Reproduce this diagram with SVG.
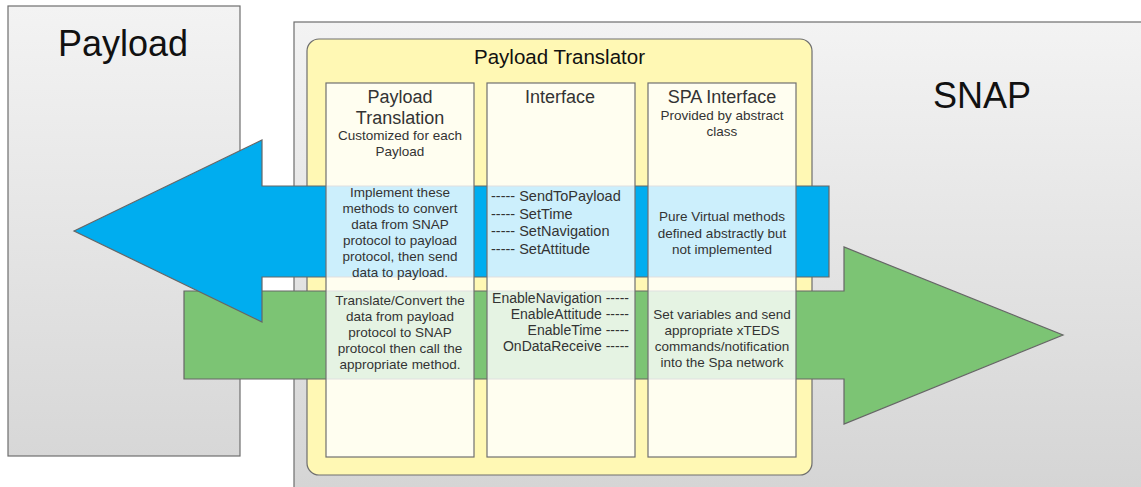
<svg xmlns="http://www.w3.org/2000/svg" width="1141" height="487" viewBox="0 0 1141 487">
<defs>
<linearGradient id="gPay" x1="0" y1="0" x2="0" y2="1">
<stop offset="0" stop-color="#f3f3f3"/><stop offset="1" stop-color="#d7d7d7"/>
</linearGradient>
<linearGradient id="gSnap" gradientUnits="userSpaceOnUse" x1="0" y1="22" x2="0" y2="487">
<stop offset="0" stop-color="#f3f3f3"/><stop offset="1" stop-color="#d5d5d5"/>
</linearGradient>
</defs>
<style>
.box{stroke:#6e6e6e;stroke-width:1.2}
.col{fill:#ffffff;fill-opacity:0.8;stroke:#707070;stroke-width:1.2}
.arrow{stroke:#666666;stroke-width:1.2;stroke-linejoin:miter}
text{font-family:"Liberation Sans",Arial,sans-serif}
.big{font-size:36px;fill:#111;text-anchor:middle}
.title{font-size:20.5px;fill:#111;text-anchor:middle}
.hdr{font-size:18px;fill:#333;text-anchor:middle}
.sub{font-size:13.5px;fill:#333;text-anchor:middle}
.body{font-size:13.5px;fill:#333;text-anchor:middle}
.ifl{font-size:14.5px;fill:#333;text-anchor:start}
.ifr{font-size:14px;fill:#333;text-anchor:end}
</style>
<rect width="1141" height="487" fill="#ffffff"/>
<g id="payload">
<rect class="box" x="8" y="6" width="232" height="450" fill="url(#gPay)"/>
<text class="big" x="123" y="56">Payload</text>
</g>
<g id="snap">
<rect class="box" x="294" y="22" width="860" height="480" fill="url(#gSnap)"/>
<text class="big" x="982" y="108">SNAP</text>
</g>
<g id="translator">
<rect class="box" x="307" y="39" width="505" height="436" rx="12" ry="12" fill="#fff8b4"/>
<text class="title" x="559.5" y="63.5">Payload Translator</text>
</g>
<g id="connectors">
<polygon class="arrow" fill="#7cc474" points="184,291 844,291 844,247 1063,335 844,424 844,379 184,379"/>
<polygon class="arrow" fill="#00adef" points="74,231 262,140 262,186 829,186 829,277 262,277 262,322"/>
</g>
<g id="col-translation">
<rect class="col" x="326" y="83" width="148" height="374"/>
<text class="hdr" x="400" y="102.5">Payload</text>
<text class="hdr" x="400" y="123.5">Translation</text>
<text class="sub" x="400" y="140">Customized for each</text>
<text class="sub" x="400" y="156">Payload</text>
<text class="body" x="400" y="197">Implement these</text>
<text class="body" x="400" y="213">methods to convert</text>
<text class="body" x="400" y="229">data from SNAP</text>
<text class="body" x="400" y="245">protocol to payload</text>
<text class="body" x="400" y="261">protocol, then send</text>
<text class="body" x="400" y="277">data to payload.</text>
<text class="body" x="400" y="305">Translate/Convert the</text>
<text class="body" x="400" y="321">data from payload</text>
<text class="body" x="400" y="337">protocol to SNAP</text>
<text class="body" x="400" y="353">protocol then call the</text>
<text class="body" x="400" y="369">appropriate method.</text>
</g>
<g id="col-interface">
<rect class="col" x="487" y="83" width="148" height="374"/>
<text class="hdr" x="560" y="102.5">Interface</text>
<text class="ifl" x="491" y="200.5">----- SendToPayload</text>
<text class="ifl" x="491" y="218.5">----- SetTime</text>
<text class="ifl" x="491" y="236">----- SetNavigation</text>
<text class="ifl" x="491" y="254">----- SetAttitude</text>
<text class="ifr" x="629" y="302.5">EnableNavigation -----</text>
<text class="ifr" x="629" y="318.5">EnableAttitude -----</text>
<text class="ifr" x="629" y="334.5">EnableTime -----</text>
<text class="ifr" x="629" y="350.5">OnDataReceive -----</text>
</g>
<g id="col-spa">
<rect class="col" x="648" y="83" width="148" height="374"/>
<text class="hdr" x="722" y="102.5">SPA Interface</text>
<text class="sub" x="722" y="119.5">Provided by abstract</text>
<text class="sub" x="722" y="135.5">class</text>
<text class="body" x="722" y="221">Pure Virtual methods</text>
<text class="body" x="722" y="237.5">defined abstractly but</text>
<text class="body" x="722" y="254">not implemented</text>
<text class="body" x="722" y="319">Set variables and send</text>
<text class="body" x="722" y="335">appropriate xTEDS</text>
<text class="body" x="722" y="351">commands/notification</text>
<text class="body" x="722" y="367">into the Spa network</text>
</g>
</svg>
